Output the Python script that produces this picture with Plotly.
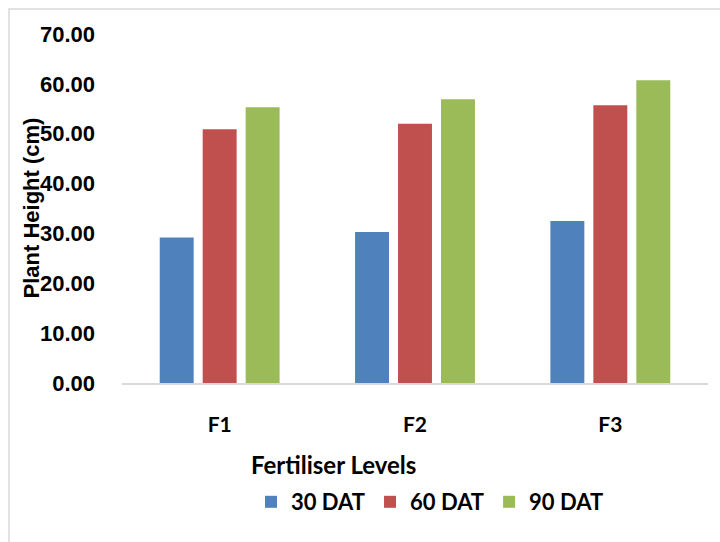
import plotly.graph_objects as go

categories = ["F1", "F2", "F3"]
series_names = ["30 DAT", "60 DAT", "90 DAT"]
dat30 = [29.2, 30.3, 32.5]
dat60 = [50.9, 52.0, 55.7]
dat90 = [55.3, 56.9, 60.7]
colors = ["#4F81BD", "#C0504D", "#9BBB59"]
y_ticks = [0, 10, 20, 30, 40, 50, 60, 70]

W, H = 720, 542
L, R, T, B = 122, 12, 34, 159
pw, ph = W - L - R, H - T - B

def px_x(p):
    return (p - L) / pw

def px_y(p):
    return (H - B - p) / ph

fig = go.Figure()
for name, vals, col in zip(series_names, [dat30, dat60, dat90], colors):
    fig.add_trace(go.Bar(x=categories, y=vals, name=name,
                         marker=dict(color=col, line=dict(width=0))))

fig.update_layout(
    width=W, height=H,
    margin=dict(l=L, r=R, t=T, b=B, pad=0),
    paper_bgcolor="white", plot_bgcolor="white",
    barmode="group", bargap=0.34, bargroupgap=0.21,
    showlegend=True,
    legend=dict(orientation="h", x=px_x(430), xanchor="center",
                y=px_y(502), yanchor="middle",
                font=dict(family="Lato", size=22, color="black", weight="bold"),
                itemwidth=30, traceorder="normal"),
    xaxis=dict(showgrid=False, showline=True, linecolor="#d9d9d9", linewidth=2,
               tickfont=dict(family="Lato", size=21, color="black", weight="bold"),
               ticks="", ticklabelstandoff=22),
    yaxis=dict(range=[0, 70], tickvals=y_ticks, tickformat=".2f",
               showgrid=False, showline=False, zeroline=False, ticks="",
               tickfont=dict(family="Liberation Sans", size=22, color="black", weight="bold"),
               ticklabelstandoff=26),
    annotations=[
        dict(text="Plant Height (cm)", xref="paper", yref="paper",
             x=px_x(31), y=0.5, xanchor="center", yanchor="middle",
             textangle=-90, showarrow=False,
             font=dict(family="Liberation Sans", size=22, color="black", weight="bold")),
        dict(text="Fertiliser Levels", xref="paper", yref="paper",
             x=px_x(333), y=px_y(464), xanchor="center", yanchor="middle",
             showarrow=False,
             font=dict(family="Lato", size=24, color="black", weight="bold")),
    ],
    shapes=[dict(type="rect", xref="paper", yref="paper",
                 x0=px_x(9), x1=px_x(740), y0=px_y(9), y1=px_y(580),
                 line=dict(color="#d9d9d9", width=1.5), layer="below")],
)

fig.write_html("out.html")
